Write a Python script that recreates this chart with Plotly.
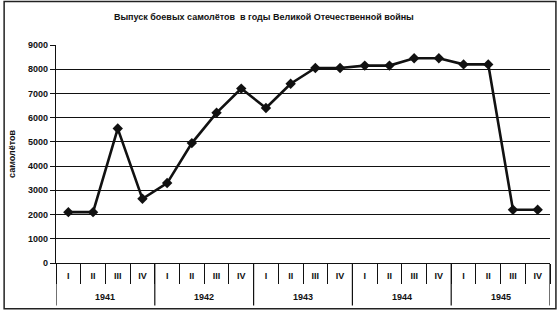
import plotly.graph_objects as go

year_labels = ["1941", "1942", "1943", "1944", "1945"]
quarter_labels = ["I", "II", "III", "IV"]
quarters = quarter_labels * len(year_labels)
values = [2100, 2100, 5550, 2650,
          3300, 4950, 6200, 7200,
          6400, 7400, 8050, 8050,
          8150, 8150, 8450, 8450,
          8200, 8200, 2200, 2200]

title_text = "Выпуск боевых самолётов  в годы Великой Отечественной войны"
y_title = "самолётов"
font_family = "Liberation Sans, Arial, sans-serif"
ink = "#111111"

n = len(values)
xs = list(range(n))
nq = len(quarter_labels)
boundaries = [i - 0.5 for i in range(n + 1)]
year_bounds = [k * nq - 0.5 for k in range(len(year_labels) + 1)]

fig = go.Figure()
fig.add_trace(go.Scatter(
    x=xs, y=values, mode="lines+markers",
    line=dict(color=ink, width=2.6),
    marker=dict(symbol="diamond", size=8, color=ink),
    showlegend=False,
))

fig.update_layout(
    width=559, height=312,
    margin=dict(l=56, r=9, t=45, b=49),
    paper_bgcolor="white", plot_bgcolor="white",
    font=dict(family=font_family, color=ink, size=9),
    title=dict(text="<b>" + title_text + "</b>", x=0.472, xanchor="center",
               y=0.945, yanchor="middle", font=dict(size=9, family=font_family)),
    xaxis=dict(
        range=[-0.5, n - 0.5], showgrid=False, zeroline=False,
        showline=True, linecolor=ink, linewidth=1.2,
        tickmode="array", tickvals=xs, ticktext=quarters, ticks="",
        ticklabelstandoff=4,
        tickfont=dict(size=9, family=font_family, weight="bold"),
        minor=dict(tickmode="array", tickvals=boundaries, ticks="outside",
                   ticklen=20, tickcolor=ink, tickwidth=1.2, showgrid=False),
    ),
    yaxis=dict(
        range=[0, 9000], dtick=1000, showgrid=True, gridcolor=ink, gridwidth=1.2,
        showline=True, linecolor=ink, linewidth=1.2, ticks="outside", ticklen=5,
        tickcolor=ink, zeroline=False,
        tickfont=dict(size=9, family=font_family, weight="bold"),
        title=dict(text="<b>" + y_title + "</b>", font=dict(size=9, family=font_family), standoff=10),
    ),
)

for xb in year_bounds:
    fig.add_shape(type="line", xref="x", yref="paper", x0=xb, x1=xb, y0=0, y1=-0.195,
                  line=dict(color=ink, width=1.2))

for k, yl in enumerate(year_labels):
    fig.add_annotation(x=k * nq + (nq - 1) / 2, y=-0.155, xref="x", yref="paper",
                       text="<b>" + yl + "</b>", showarrow=False,
                       font=dict(size=9, family=font_family, color=ink),
                       xanchor="center", yanchor="middle")

fig.add_shape(type="rect", xref="paper", yref="paper",
              x0=-0.105, x1=1.012, y0=-0.21, y1=1.2,
              line=dict(color="#222222", width=1.5))

fig.write_html("out.html")
